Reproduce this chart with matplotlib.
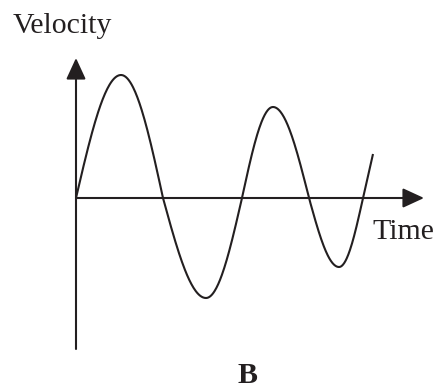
import numpy as np
import matplotlib
matplotlib.use('Agg')
import matplotlib.pyplot as plt

# key points of the velocity curve (zero crossings and turning points)
times = [0.0, 4.5, 8.7, 13.0, 16.6, 19.7, 23.3, 26.3, 28.7, 29.7]
velocities = [0.0, 12.3, 0.0, -10.0, 0.0, 9.1, 0.0, -6.9, 0.0, 4.4]

ink = '#231f20'
plt.rcParams['font.family'] = ['Liberation Serif', 'DejaVu Serif']

fig = plt.figure(figsize=(4.39, 3.91), dpi=100)
ax = fig.add_axes([0, 0, 1, 1])
ax.set_xlim(-7.6, 36.3)
ax.set_ylim(-19.3, 19.8)
ax.axis('off')

# build the wave: quarter-sine pieces between key points
tt = []
vv = []
for i in range(len(times) - 1):
    t0, t1 = times[i], times[i + 1]
    v0, v1 = velocities[i], velocities[i + 1]
    s = np.linspace(0, 1, 60)
    if i == len(times) - 2:
        v = v0 + (v1 - v0) * s
    elif v0 == 0:
        v = v1 * np.sin(np.pi / 2 * s)
    else:
        v = v0 * np.cos(np.pi / 2 * s)
    tt.extend(t0 + (t1 - t0) * s)
    vv.extend(v)

ax.plot(tt, vv, color=ink, lw=1.5, solid_capstyle='butt')

# axes with arrow heads
arrow = dict(arrowstyle='-|>,head_length=0.65,head_width=0.3', color=ink,
             lw=1.5, mutation_scale=20, shrinkA=0, shrinkB=0)
ax.annotate('', xy=(0, 14.0), xytext=(0, -15.1), arrowprops=arrow)
ax.annotate('', xy=(34.8, 0), xytext=(0, 0), arrowprops=arrow)

ax.text(-6.3, 16.5, 'Velocity', fontsize=21.5, color=ink, ha='left', va='baseline')
ax.text(29.6, -4.1, 'Time', fontsize=21.5, color=ink, ha='left', va='baseline')
ax.text(17.2, -18.5, 'B', fontsize=21.5, fontweight='bold', color=ink,
        ha='center', va='baseline')

fig.savefig('out.png', dpi=100)
